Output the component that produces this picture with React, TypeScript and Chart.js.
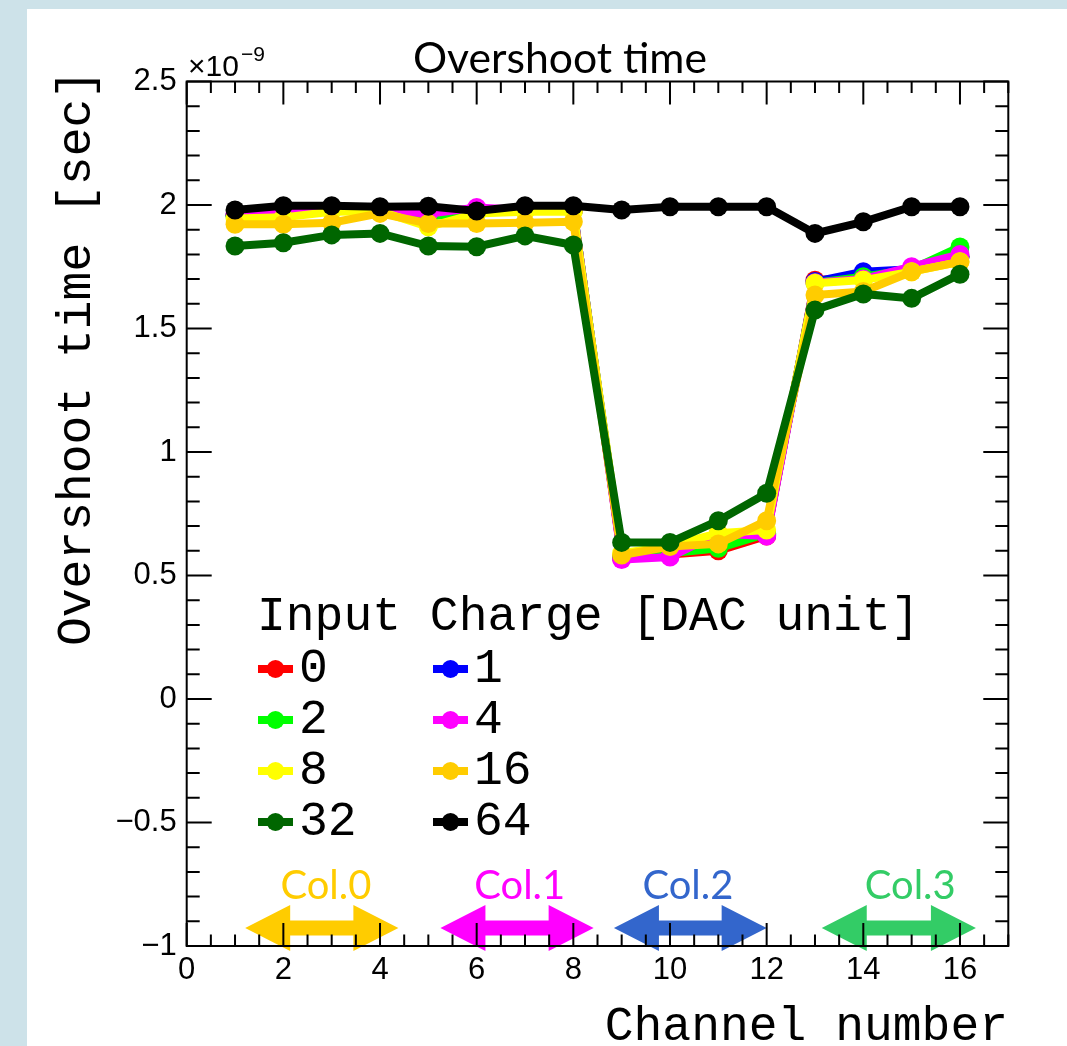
import React, { useEffect, useRef } from "react";
import { Chart, registerables } from "chart.js";

Chart.register(...registerables);

// ---------- data (values in units of 1e-9 s) ----------
const channels = [1, 2, 3, 4, 5, 6, 7, 8, 9, 10, 11, 12, 13, 14, 15, 16];

const seriesLabels = ["0", "1", "2", "4", "8", "16", "32", "64"];
const seriesColors = ["#ff0000", "#0000ff", "#00ff00", "#ff00ff", "#ffff00", "#ffcc00", "#006600", "#000000"];

const q0 = [1.96, 1.96, 1.98, 1.98, 1.96, 1.97, 1.98, 1.98, 0.57, 0.585, 0.60, 0.66, 1.695, 1.71, 1.735, 1.79];
const q1 = [1.96, 1.96, 1.98, 1.98, 1.96, 1.97, 1.98, 1.98, 0.575, 0.59, 0.64, 0.665, 1.69, 1.73, 1.74, 1.79];
const q2 = [1.955, 1.96, 1.98, 1.98, 1.955, 1.97, 1.98, 1.98, 0.575, 0.59, 0.61, 0.67, 1.685, 1.71, 1.74, 1.83];
const q4 = [1.965, 1.97, 1.98, 1.98, 1.965, 1.99, 1.98, 1.98, 0.565, 0.575, 0.67, 0.66, 1.685, 1.70, 1.75, 1.80];
const q8 = [1.945, 1.95, 1.973, 1.975, 1.912, 1.966, 1.973, 1.973, 0.59, 0.62, 0.671, 0.684, 1.683, 1.696, 1.73, 1.77];
const q16 = [1.922, 1.922, 1.928, 1.966, 1.925, 1.925, 1.928, 1.932, 0.583, 0.617, 0.628, 0.722, 1.636, 1.65, 1.73, 1.77];
const q32 = [1.834, 1.847, 1.879, 1.885, 1.834, 1.831, 1.875, 1.838, 0.634, 0.634, 0.722, 0.833, 1.575, 1.64, 1.622, 1.72];
const q64 = [1.98, 1.997, 1.997, 1.993, 1.995, 1.976, 1.997, 1.997, 1.98, 1.993, 1.993, 1.993, 1.885, 1.932, 1.993, 1.993];

const seriesValues = [q0, q1, q2, q4, q8, q16, q32, q64];

const colLabels = ["Col.0", "Col.1", "Col.2", "Col.3"];
const colColors = ["#ffcc00", "#ff00ff", "#3366cc", "#33cc66"];
const colArrowStart = [1.21, 5.25, 8.84, 13.14];
const colArrowEnd = [4.38, 8.42, 12.0, 16.33];
const colLabelX = [2.88, 6.89, 10.37, 14.97];
const colArrowY = -0.927;
const colLabelY = -0.808;

const chartTitle = "Overshoot time";
const xTitle = "Channel number";
const yTitle = "Overshoot time [sec]";
const legendTitle = "Input Charge [DAC unit]";

const MONO = '"Liberation Mono", "DejaVu Sans Mono", monospace';
const SANS = '"Liberation Sans", Arial, sans-serif';
const LIGHT = 'Lato, "Noto Sans", sans-serif';

function fitFont(ctx: CanvasRenderingContext2D, text: string, family: string, width: number) {
  ctx.font = `100px ${family}`;
  const w = ctx.measureText(text).width;
  const size = (100 * width) / w;
  ctx.font = `${size}px ${family}`;
}

const decorPlugin = {
  id: "decor",
  beforeDraw(chart: any) {
    const ctx = chart.ctx as CanvasRenderingContext2D;
    ctx.save();
    ctx.fillStyle = "#cde2e9";
    ctx.fillRect(0, 0, chart.width, chart.height);
    ctx.fillStyle = "#ffffff";
    ctx.fillRect(27, 9, chart.width - 27, chart.height - 9);
    ctx.restore();
  },
  beforeDatasetsDraw(chart: any) {
    const ctx = chart.ctx as CanvasRenderingContext2D;
    const xs = chart.scales.x;
    const ys = chart.scales.y;
    const { left, right, top, bottom } = chart.chartArea;
    ctx.save();
    // column arrows
    const ay = ys.getPixelForValue(colArrowY);
    const headLen = 45;
    const headHalf = 23;
    const shaftHalf = 7.5;
    colLabels.forEach((lab, i) => {
      const x0 = xs.getPixelForValue(colArrowStart[i]);
      const x1 = xs.getPixelForValue(colArrowEnd[i]);
      ctx.fillStyle = colColors[i];
      ctx.beginPath();
      ctx.moveTo(x0, ay);
      ctx.lineTo(x0 + headLen, ay - headHalf);
      ctx.lineTo(x0 + headLen, ay - shaftHalf);
      ctx.lineTo(x1 - headLen, ay - shaftHalf);
      ctx.lineTo(x1 - headLen, ay - headHalf);
      ctx.lineTo(x1, ay);
      ctx.lineTo(x1 - headLen, ay + headHalf);
      ctx.lineTo(x1 - headLen, ay + shaftHalf);
      ctx.lineTo(x0 + headLen, ay + shaftHalf);
      ctx.lineTo(x0 + headLen, ay + headHalf);
      ctx.closePath();
      ctx.fill();
      fitFont(ctx, lab, LIGHT, 91);
      ctx.textAlign = "center";
      ctx.textBaseline = "alphabetic";
      ctx.fillText(lab, xs.getPixelForValue(colLabelX[i]), ys.getPixelForValue(colLabelY));
    });

    // frame
    ctx.strokeStyle = "#000";
    ctx.lineWidth = 2;
    ctx.strokeRect(left, top, right - left, bottom - top);
    // ticks
    ctx.lineWidth = 2;
    ctx.beginPath();
    for (let k = 0; k <= 34; k++) {
      const v = k * 0.5;
      const px = xs.getPixelForValue(v);
      const len = k % 4 === 0 ? 23 : 11.5;
      ctx.moveTo(px, bottom);
      ctx.lineTo(px, bottom - len);
      ctx.moveTo(px, top);
      ctx.lineTo(px, top + len);
    }
    for (let k = 0; k <= 35; k++) {
      const v = -1 + k * 0.1;
      const py = ys.getPixelForValue(v);
      const len = k % 5 === 0 ? 25 : 13;
      ctx.moveTo(left, py);
      ctx.lineTo(left + len, py);
      ctx.moveTo(right, py);
      ctx.lineTo(right - len, py);
    }
    ctx.stroke();
    ctx.restore();
  },
  afterDatasetsDraw(chart: any) {
    const ctx = chart.ctx as CanvasRenderingContext2D;
    ctx.save();
    // legend
    ctx.fillStyle = "#000";
    ctx.font = `48px ${MONO}`;
    ctx.textAlign = "left";
    ctx.textBaseline = "alphabetic";
    ctx.fillText(legendTitle, 257, 630);
    const rowBase = [682, 733, 784, 835];
    const colMarkX = [258, 433];
    const colTextX = [299, 474];
    chart.data.datasets.forEach((ds: any, i: number) => {
      const r = Math.floor(i / 2);
      const c = i % 2;
      const cy = rowBase[r] - 13;
      const mx = colMarkX[c];
      ctx.strokeStyle = ds.borderColor;
      ctx.lineWidth = 8;
      ctx.beginPath();
      ctx.moveTo(mx, cy);
      ctx.lineTo(mx + 35, cy);
      ctx.stroke();
      ctx.fillStyle = ds.borderColor;
      ctx.beginPath();
      ctx.arc(mx + 17.5, cy, 9, 0, Math.PI * 2);
      ctx.fill();
      ctx.fillStyle = "#000";
      ctx.fillText(ds.label, colTextX[c], rowBase[r]);
    });
    ctx.restore();
  },
  afterDraw(chart: any) {
    const ctx = chart.ctx as CanvasRenderingContext2D;
    ctx.save();
    ctx.fillStyle = "#000";
    // title
    fitFont(ctx, chartTitle, LIGHT, 294);
    ctx.textAlign = "center";
    ctx.textBaseline = "alphabetic";
    ctx.fillText(chartTitle, 560, 73);
    // exponent
    ctx.textAlign = "left";
    ctx.font = `30px ${SANS}`;
    ctx.fillText("\u00d710", 188, 76);
    ctx.font = `21px ${SANS}`;
    ctx.fillText("\u22129", 241, 61);
    // x title
    ctx.font = `48px ${MONO}`;
    ctx.textAlign = "right";
    ctx.fillText(xTitle, 1008, 1040);
    // y title
    ctx.translate(90, 358);
    ctx.rotate(-Math.PI / 2);
    ctx.textAlign = "center";
    ctx.fillText(yTitle, 0, 0);
    ctx.restore();
  },
};

export default function App() {
  const ref = useRef<HTMLCanvasElement | null>(null);
  useEffect(() => {
    if (!ref.current) return;
    const chart = new Chart(ref.current, {
      type: "line",
      data: {
        datasets: seriesValues.map((vals, i) => ({
          label: seriesLabels[i],
          data: channels.map((c, j) => ({ x: c, y: vals[j] })),
          borderColor: seriesColors[i],
          backgroundColor: seriesColors[i],
          pointBackgroundColor: seriesColors[i],
          pointBorderWidth: 0,
          pointRadius: 9.5,
          borderWidth: 8,
          tension: 0,
          order: seriesValues.length - 1 - i,
        })),
      },
      options: {
        responsive: false,
        animation: false,
        events: [],
        layout: { padding: { left: 0, right: 58.7, top: 81.5, bottom: 0 } },
        plugins: {
          legend: { display: false },
          title: { display: false },
          tooltip: { enabled: false },
        },
        scales: {
          x: {
            type: "linear",
            min: 0,
            max: 17,
            ticks: {
              stepSize: 2,
              includeBounds: false,
              autoSkip: false,
              maxRotation: 0,
              color: "#000",
              padding: 6,
              font: { family: SANS, size: 31 },
            },
            grid: { display: false, drawTicks: false },
            border: { display: false },
            afterFit: (s: any) => {
              s.height = 100;
            },
          },
          y: {
            type: "linear",
            min: -1,
            max: 2.5,
            ticks: {
              stepSize: 0.5,
              color: "#000",
              padding: 10,
              font: { family: SANS, size: 31 },
              callback: (v: any) => {
                const r = Math.round(Number(v) * 100) / 100;
                return r < 0 ? "\u2212" + Math.abs(r) : String(r);
              },
            },
            grid: { display: false, drawTicks: false },
            border: { display: false },
            afterFit: (s: any) => {
              s.width = 186.7;
            },
          },
        },
      } as any,
      plugins: [decorPlugin],
    });
    return () => chart.destroy();
  }, []);
  return (
    <div style={{ position: "absolute", left: 0, top: 0, width: 1067, height: 1046 }}>
      <canvas ref={ref} width={1067} height={1046} style={{ display: "block", width: 1067, height: 1046 }} />
    </div>
  );
}
